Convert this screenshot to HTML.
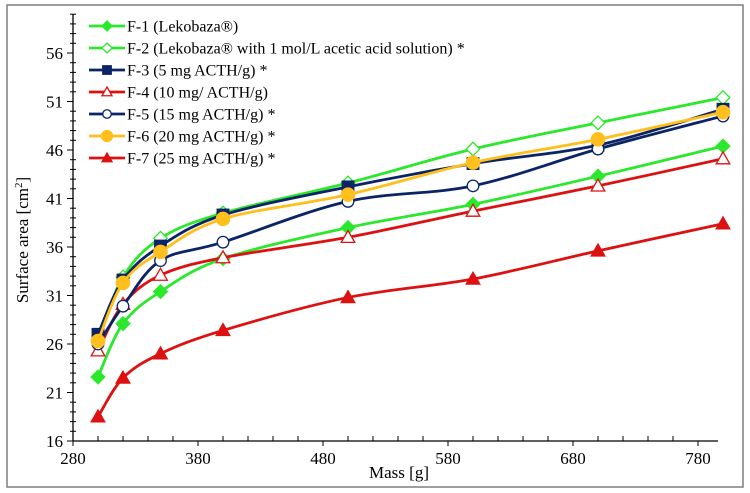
<!DOCTYPE html>
<html><head><meta charset="utf-8"><style>
html,body{margin:0;padding:0;background:#fff;}
svg{display:block;font-family:"Liberation Serif",serif;}
</style></head><body>
<svg id="chart" width="750" height="493" viewBox="0 0 750 493" xmlns="http://www.w3.org/2000/svg">
<rect x="7" y="5" width="736" height="482" fill="#fff" stroke="#7f7f7f" stroke-width="1.5"/>
<g id="axes"></g><g id="series"></g><g id="legend"></g>
<text x="399" y="478" font-size="17" text-anchor="middle">Mass [g]</text>
<text transform="translate(28,240) rotate(-90)" font-size="17" text-anchor="middle">Surface area [cm<tspan font-size="11" dy="-6">2</tspan><tspan dy="6">]</tspan></text>
</svg>
<script>
const masses = [300, 320, 350, 400, 500, 600, 700, 800];
const f1 = [22.6, 28.1, 31.4, 34.8, 38.0, 40.4, 43.3, 46.4];
const f2 = [26.4, 32.9, 36.9, 39.5, 42.6, 46.1, 48.8, 51.4];
const f3 = [27.0, 32.6, 36.1, 39.3, 42.2, 44.6, 46.5, 50.2];
const f4 = [25.3, 30.1, 33.1, 34.9, 37.0, 39.7, 42.3, 45.1];
const f5 = [26.0, 29.9, 34.6, 36.5, 40.7, 42.3, 46.1, 49.5];
const f6 = [26.3, 32.3, 35.5, 38.9, 41.4, 44.7, 47.1, 49.9];
const f7 = [18.5, 22.5, 25.0, 27.4, 30.8, 32.7, 35.6, 38.4];
const xTicks = [280, 380, 480, 580, 680, 780];
const yTicks = [16, 21, 26, 31, 36, 41, 46, 51, 56];
const seriesNames = ["F-1 (Lekobaza®)","F-2 (Lekobaza® with 1 mol/L acetic acid solution) *","F-3 (5 mg ACTH/g) *","F-4 (10 mg/ ACTH/g)","F-5 (15 mg ACTH/g) *","F-6 (20 mg ACTH/g) *","F-7 (25 mg ACTH/g) *"];

const NS="http://www.w3.org/2000/svg";
const X0=73, XMIN=280, XS=1.25, Y0=441, YMIN=16, YS=9.7;
const xp=v=>X0+(v-XMIN)*XS;
const yp=v=>Y0-(v-YMIN)*YS;
function mk(tag,attrs,parent){const e=document.createElementNS(NS,tag);for(const k in attrs)e.setAttribute(k,attrs[k]);parent.appendChild(e);return e;}
const axes=document.getElementById('axes');
const yTop=yp(60), xEnd=xp(796);
let a=mk('line',{x1:X0,y1:Y0,x2:xEnd,y2:Y0,stroke:'#000','stroke-width':1.3},axes);

a=mk('line',{x1:X0,y1:Y0,x2:X0,y2:yTop,stroke:'#000','stroke-width':1.3},axes);

for(let v=280;v<=796;v+=20){const x=xp(v);const major=(v-280)%100===0;
 mk('line',{x1:x,y1:major?Y0+5:Y0,x2:x,y2:major?Y0:Y0-5,stroke:'#000','stroke-width':1},axes);}
for(let v=16;v<=60;v+=1){const y=yp(v);const major=(v-16)%5===0;
 mk('line',{x1:major?X0-6:X0-3,y1:y,x2:X0+(major?0:3),y2:y,stroke:'#000','stroke-width':1},axes);}
xTicks.forEach(v=>{const t=mk('text',{x:xp(v),y:Y0+23,'font-size':17,'text-anchor':'middle'},axes);t.textContent=v;
 });
yTicks.forEach(v=>{const t=mk('text',{x:X0-10,y:yp(v)+6,'font-size':17,'text-anchor':'end'},axes);t.textContent=v;
 });

const GREEN='#2ce82c',NAVY='#0a2466',RED='#dd1111',YEL='#ffbf1c';
const styles=[{c:GREEN,m:'diamond',f:true},{c:GREEN,m:'diamond',f:false},{c:NAVY,m:'square',f:true},{c:RED,m:'triangle',f:false},{c:NAVY,m:'circle',f:false},{c:YEL,m:'circle',f:true,big:true},{c:RED,m:'triangle',f:true}];
const allData=[f1,f2,f3,f4,f5,f6,f7];
function marker(g,type,x,y,s,fill,color){const fl=fill?color:'none';let e;
 if(type==='diamond')e=mk('polygon',{points:`${x},${y-s} ${x+s},${y} ${x},${y+s} ${x-s},${y}`,fill:fill?color:'#fff',stroke:color,'stroke-width':1.3},g);
 else if(type==='square')e=mk('rect',{x:x-s*0.85,y:y-s*0.85,width:s*1.7,height:s*1.7,fill:fl,stroke:color,'stroke-width':1.3},g);
 else if(type==='triangle')e=mk('polygon',{points:`${x},${y-s} ${x+s},${y+s*0.75} ${x-s},${y+s*0.75}`,fill:fill?color:'#fff',stroke:color,'stroke-width':1.3},g);
 else e=mk('circle',{cx:x,cy:y,r:s*0.85,fill:fill?color:'#fff',stroke:color,'stroke-width':1.3},g);
 return e;}
function smooth(pts){let d=`M${pts[0][0]},${pts[0][1]}`;const t=1/6;
 for(let i=0;i<pts.length-1;i++){const p0=pts[i-1]||pts[i],p1=pts[i],p2=pts[i+1],p3=pts[i+2]||p2;
  d+=` C${p1[0]+(p2[0]-p0[0])*t},${p1[1]+(p2[1]-p0[1])*t} ${p2[0]-(p3[0]-p1[0])*t},${p2[1]-(p3[1]-p1[1])*t} ${p2[0]},${p2[1]}`;}
 return d;}
const sg=document.getElementById('series');
allData.forEach((data,i)=>{const st=styles[i];
 const g=mk('g',{},sg);
 
 
 const pts=masses.map((m,j)=>[xp(m),yp(data[j])]);
 const p=mk('path',{d:smooth(pts),fill:'none',stroke:st.c,'stroke-width':2.8},g);
 
 
 pts.forEach(q=>{const e=marker(g,st.m,q[0],q[1],st.big?7.8:6.8,st.f,st.c);
  
  });
});
const lg=document.getElementById('legend');
seriesNames.forEach((n,i)=>{const st=styles[i];const y=26+i*22;
 const g=mk('g',{},lg);
 
 
 mk('line',{x1:89,y1:y,x2:125,y2:y,stroke:st.c,'stroke-width':2.8},g);
 marker(g,st.m,107,y,st.big?6.5:5,st.f,st.c);
 const t=mk('text',{x:127,y:y+5.5,'font-size':16},g);t.textContent=n;});
</script>
</body></html>
